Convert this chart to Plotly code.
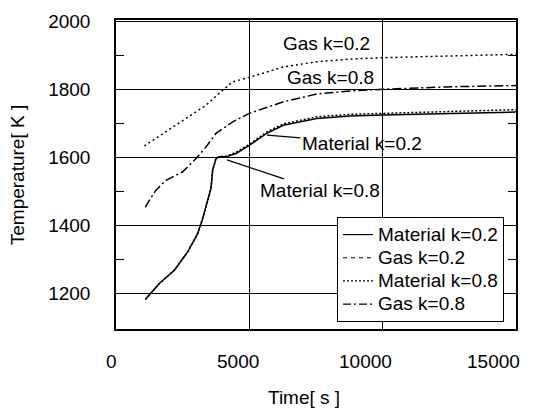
import plotly.graph_objects as go

# ---- data ----
mat02_x = [1100, 1625, 2187, 2687, 3062, 3250, 3437, 3562, 3625, 3750, 3875, 4125, 4500, 5000, 5650, 6275, 7525, 8775, 10025, 12400, 15000]
mat02_y = [1181, 1228, 1267, 1321, 1375, 1419, 1473, 1508, 1562, 1596, 1601, 1601, 1611, 1635, 1670, 1694, 1714, 1721, 1724, 1729, 1733]

mat08_x = [1100, 1625, 2187, 2687, 3062, 3250, 3437, 3562, 3625, 3750, 3875, 4125, 4500, 5000, 5650, 6275, 7525, 8775, 10025, 12400, 15000]
mat08_y = [1181, 1228, 1267, 1321, 1375, 1420, 1473, 1508, 1562, 1597, 1602, 1603, 1614, 1638, 1674, 1698, 1719, 1726, 1729, 1734, 1740]

gas02_x = [1062, 2500, 3375, 4000, 4375, 5000, 6275, 7525, 8775, 10025, 12400, 15000]
gas02_y = [1633, 1709, 1753, 1797, 1822, 1835, 1866, 1881, 1889, 1893, 1898, 1903]

gas08_x = [1100, 1250, 1500, 1875, 2500, 3000, 3375, 3750, 4375, 5000, 6275, 7525, 8775, 10025, 12400, 15000]
gas08_y = [1452, 1473, 1503, 1532, 1557, 1596, 1630, 1670, 1704, 1729, 1763, 1786, 1795, 1800, 1807, 1811]

x_ticks = [0, 5000, 10000, 15000]
y_ticks = [1200, 1400, 1600, 1800, 2000]
y_minor = [1300, 1500, 1700, 1900]

legend_names = ["Material k=0.2", "Gas k=0.2", "Material k=0.8", "Gas k=0.8"]
legend_dashes = ["solid", "4px,4px", "2px,2px", "8px,3px,2px,3px"]

FONT = "Liberation Sans, Arial, sans-serif"
fig = go.Figure()

# curves
fig.add_trace(go.Scatter(x=mat02_x, y=mat02_y, mode="lines", showlegend=False,
                         line=dict(color="black", width=1.5, dash="solid")))
fig.add_trace(go.Scatter(x=mat08_x, y=mat08_y, mode="lines", showlegend=False,
                         line=dict(color="black", width=1.5, dash="2px,2px")))
fig.add_trace(go.Scatter(x=gas02_x, y=gas02_y, mode="lines", showlegend=False,
                         line=dict(color="black", width=1.5, dash="2px,3px")))
fig.add_trace(go.Scatter(x=gas08_x, y=gas08_y, mode="lines", showlegend=False,
                         line=dict(color="black", width=1.5, dash="9px,3px,2px,3px")))

# legend entries
for name, dash in zip(legend_names, legend_dashes):
    fig.add_trace(go.Scatter(x=[None], y=[None], mode="lines",
                             name='<span style="font-size:19px">' + name + '</span>',
                             line=dict(color="black", width=1.2, dash=dash)))

ann = []
# curve labels
ann.append(dict(x=7912, y=1936, xref="x", yref="y", text="Gas k=0.2", showarrow=False,
                font=dict(size=19, color="black", family=FONT)))
ann.append(dict(x=8062, y=1836, xref="x", yref="y", text="Gas k=0.8", showarrow=False,
                font=dict(size=19, color="black", family=FONT)))
ann.append(dict(x=5662, y=1665, xref="x", yref="y", text="Material k=0.2", showarrow=True,
                arrowhead=0, arrowwidth=1.2, arrowcolor="black", ax=95, ay=8, standoff=0,
                font=dict(size=19, color="black", family=FONT)))
ann.append(dict(x=4162, y=1592, xref="x", yref="y", text="Material k=0.8", showarrow=True,
                arrowhead=0, arrowwidth=1.2, arrowcolor="black", ax=93, ay=31, standoff=0,
                font=dict(size=19, color="black", family=FONT)))
# x tick labels
for v in x_ticks:
    ann.append(dict(x=v, y=-0.1066, xref="x", yref="paper", text=str(v), showarrow=False,
                    xshift=-(5 + v * 18 / 15000), yanchor="middle", xanchor="center",
                    font=dict(size=19, color="black", family=FONT)))
# axis titles
ann.append(dict(x=-0.2475, y=0.4976, xref="paper", yref="paper", text="Temperature[ K ]",
                textangle=-90, showarrow=False, xanchor="center", yanchor="middle",
                font=dict(size=19, color="black", family=FONT)))
ann.append(dict(x=0.47, y=-0.223, xref="paper", yref="paper", text="Time[ s ]",
                showarrow=False, xanchor="center", yanchor="middle",
                font=dict(size=19, color="black", family=FONT)))

fig.update_layout(
    width=545, height=412,
    margin=dict(l=116, r=29, t=20, b=83),
    paper_bgcolor="white", plot_bgcolor="white",
    font=dict(family=FONT, size=19, color="black"),
    annotations=ann,
    legend=dict(x=0.97, y=0.0226, xanchor="right", yanchor="bottom",
                bordercolor="black", borderwidth=1, bgcolor="white",
                font=dict(size=15.5, family=FONT, color="black"),
                tracegroupgap=0, itemwidth=30),
    xaxis=dict(range=[0, 15000], tickvals=x_ticks, showticklabels=False,
               showgrid=True, gridcolor="black", gridwidth=1.2,
               showline=True, linecolor="black", linewidth=1.5, mirror=True,
               ticks="", zeroline=False),
    yaxis=dict(range=[1094, 2004], tickvals=y_ticks,
               showgrid=True, gridcolor="black", gridwidth=1.2,
               showline=True, linecolor="black", linewidth=1.5, mirror="ticks",
               ticks="inside", ticklen=8, tickcolor="black", tickwidth=1,
               ticklabelstandoff=20,
               minor=dict(tickvals=y_minor, ticks="inside", ticklen=8, tickcolor="black",
                          tickwidth=1, showgrid=False),
               zeroline=False, tickfont=dict(size=19, family=FONT, color="black")),
)

fig.write_html("out.html", post_script="document.body.style.margin='0';",
               config={"displayModeBar": False})
